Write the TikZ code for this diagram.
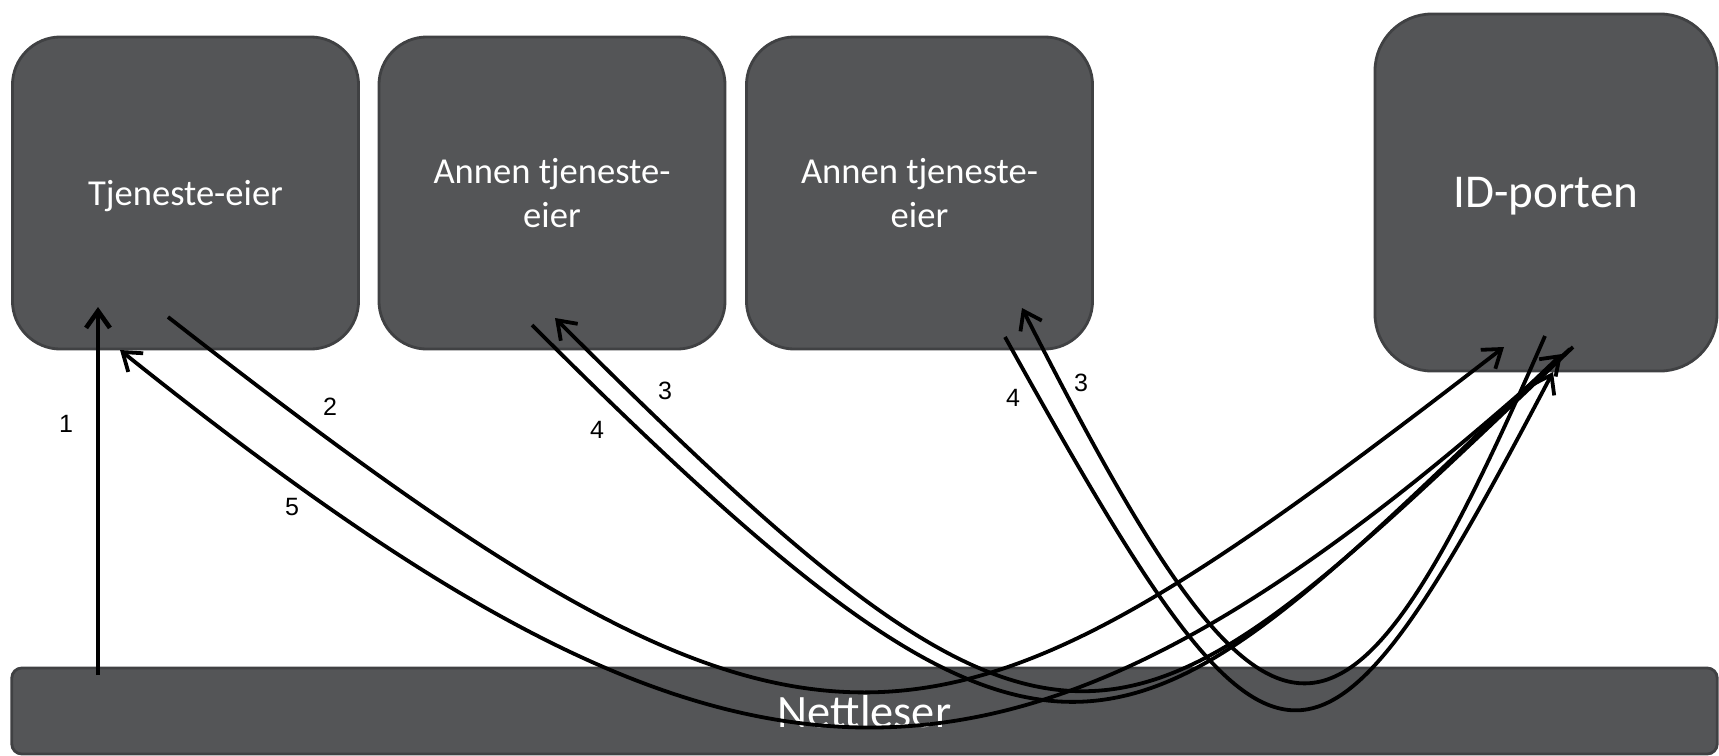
\documentclass[tikz,border=0pt]{standalone}
\usepackage{fontspec}
\setmainfont{Carlito}
\newfontfamily\numfont{Liberation Sans}
\usepackage{tikz}
\usetikzlibrary{arrows.meta,positioning}
\definecolor{boxgrey}{HTML}{545557}
\definecolor{boxedge}{HTML}{404143}
\tikzset{box/.style={draw=boxedge, line width=2pt, fill=boxgrey, text=white, align=center, inner sep=0pt, text depth=0pt}}
\tikzstyle{owner}=[box, minimum width=8.65cm, minimum height=7.8cm, rounded corners=1.2cm, font=\fontsize{26}{31.3}\selectfont]
\tikzstyle{num}=[inner sep=0pt, font=\numfont\fontsize{17.8}{20}\selectfont]
\tikzstyle{flow}=[->, line width=2.7pt]

\begin{document}
\begin{tikzpicture}[x=0.025cm, y=-0.025cm, >={Straight Barb[length=12pt,width=17pt]}]
\useasboundingbox (0,0) rectangle (1719,756);

\node[owner] (TE) at (185.5,193) {Tjeneste-eier};
\node[owner] (AT1) at (552,193) {Annen tjeneste-\\eier};
\node[owner] (AT2) at (919.5,193) {Annen tjeneste-\\eier};
\node[box, minimum width=8.55cm, minimum height=8.925cm, rounded corners=1.43cm, font=\fontsize{33.5}{40}\selectfont] (IDP) at (1546,192.5) {ID-porten};
\node[box, minimum width=42.625cm, minimum height=2.15cm, rounded corners=0.25cm, font=\fontsize{33}{40}\selectfont] (NL) at (864.5,711) {Nettleser};

\coordinate (NLout) at (98,675);
\coordinate (TEin1) at (98,307);
\coordinate (TEout) at (168,317);
\coordinate (TEin5) at (120,350);
\coordinate (AT1in) at (555,318);
\coordinate (AT1out) at (532,325);
\coordinate (AT2in) at (1022,308);
\coordinate (AT2out) at (1005,337);
\coordinate (IDPin2) at (1504,347);
\coordinate (IDPin4a) at (1562,354);
\coordinate (IDPin4b) at (1553,372);
\coordinate (IDPout3a) at (1573,347);
\coordinate (IDPout3b) at (1545,336);
\coordinate (IDPout5) at (1570,349);

\draw[flow, line width=3.3pt] (NLout) -- (TEin1);
\draw[flow] (TEout) .. controls +(658,513) and +(-580,447) .. (IDPin2);
\draw[flow] (IDPout3a) .. controls +(-454,431) and +(524,524) .. (AT1in);
\draw[flow] (AT1out) .. controls +(546,546) and +(-440,418) .. (IDPin4a);
\draw[flow] (IDPout3b) .. controls +(-203,467) and +(251,495) .. (AT2in);
\draw[flow] (AT2out) .. controls +(273,491) and +(-240,456) .. (IDPin4b);
\draw[flow] (IDPout5) .. controls +(-561,505) and +(627,502) .. (TEin5);

\node[num] (n1) at (66,424) {1};
\node[num] (n2) at (330,407) {2};
\node[num] (n3a) at (665,391) {3};
\node[num] (n4a) at (597,430) {4};
\node[num] (n3b) at (1081,383) {3};
\node[num] (n4b) at (1013,398) {4};
\node[num] (n5) at (292,507) {5};
\end{tikzpicture}
\end{document}
